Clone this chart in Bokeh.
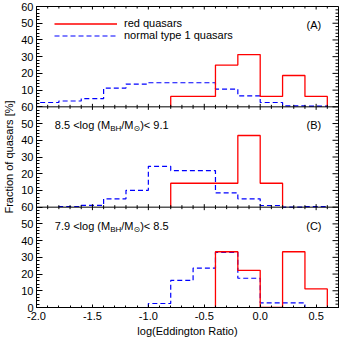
import numpy as np
from bokeh.plotting import figure
from bokeh.models import (FixedTicker, SingleIntervalTicker, NumeralTickFormatter,
                          Span, Label, Legend, LegendItem, Range1d)
from bokeh.embed import file_html
from bokeh.resources import INLINE

# ---------------- data ----------------
bin_edges = [-2.0, -1.8, -1.6, -1.4, -1.2, -1.0, -0.8, -0.6, -0.4, -0.2, 0.0, 0.2, 0.4, 0.6]

red_A = [0, 0, 0, 0, 0, 0, 6.25, 6.25, 25.0, 31.25, 6.25, 18.75, 6.25]
blue_A = [2.6, 3.5, 4.9, 11.2, 13.6, 14.4, 14.4, 14.4, 10.6, 6.5, 2.6, 0.6, 0.4]
red_B = [0, 0, 0, 0, 0, 0, 14.29, 14.29, 14.29, 42.86, 14.29, 0, 0]
blue_B = [0, 0.4, 1.1, 5.0, 10.1, 24.4, 21.9, 21.9, 8.6, 5.0, 1.0, 0, 0.3]
red_C = [0, 0, 0, 0, 0, 0, 0, 0, 33.33, 22.22, 0, 33.33, 11.11]
blue_C = [0, 0, 0, 0, 0, 2.4, 16.2, 23.6, 33.0, 17.5, 2.8, 2.8, 0]

panel_tags = ["(A)", "(B)", "(C)"]
mass_low = [None, "8.5", "7.9"]
mass_high = [None, "9.1", "8.5"]
series_names = ["red quasars", "normal type 1 quasars"]
y_tick_labels = [0, 10, 20, 30, 40, 50, 60]
x_label = "log(Eddington Ratio)"
y_label = "Fraction of quasars [%]"

PANEL = 60          # height of one panel in y units
offsets = [2 * PANEL, PANEL, 0]   # A on top, C at bottom
FONT = "Liberation Sans"
FS = "11px"
SUB = "8px"
RED = "#ff0000"
BLUE = "#0000ff"


def step_xy(values, offset):
    nz = [i for i, v in enumerate(values) if v > 0]
    i0, i1 = nz[0], nz[-1]
    xs = [bin_edges[i0]]
    ys = [offset]
    for i in range(i0, i1 + 1):
        xs += [bin_edges[i], bin_edges[i + 1]]
        ys += [values[i] + offset] * 2
    xs.append(bin_edges[i1 + 1])
    ys.append(offset)
    return xs, ys


FH = 301
p = figure(frame_width=302, frame_height=FH,
           x_range=Range1d(-2.0, 0.7), y_range=Range1d(0, 3 * PANEL),
           output_backend="svg", toolbar_location=None,
           min_border_top=6, min_border_right=5, min_border_left=2, min_border_bottom=2)
p.xgrid.visible = False
p.ygrid.visible = False
p.outline_line_color = "black"
p.outline_line_width = 1
p.background_fill_color = "white"
p.border_fill_color = "white"

# ---------------- histograms ----------------
reds = [red_A, red_B, red_C]
blues = [blue_A, blue_B, blue_C]
red_renderers = []
blue_renderers = []
for k in range(3):
    bx, by = step_xy(blues[k], offsets[k])
    rb = p.line(bx, by, line_color=BLUE, line_width=1.2, line_dash="5 3")
    rx, ry = step_xy(reds[k], offsets[k])
    rr = p.line(rx, ry, line_color=RED, line_width=1.3)
    red_renderers.append(rr)
    blue_renderers.append(rb)

# panel boundaries
for yb in [PANEL, 2 * PANEL]:
    p.add_layout(Span(location=yb, dimension="width", line_color="black", line_width=1))

# ---------------- axes ----------------
ymaj = [o + v for o in [0, PANEL, 2 * PANEL] for v in y_tick_labels]
ymaj = sorted(set(ymaj))
ymin = [v for v in np.arange(0, 3 * PANEL + 0.1, 2.0) if int(round(v)) % 10 != 0]
p.yaxis.ticker = FixedTicker(ticks=ymaj, minor_ticks=ymin)
overrides = {}
for v in ymaj:
    r = v % PANEL
    lab = 60 if (r == 0 and v > 0) else r
    overrides[v] = str(int(lab))
p.yaxis.major_label_overrides = overrides

p.xaxis.ticker = SingleIntervalTicker(interval=0.5, num_minor_ticks=5)
p.xaxis.formatter = NumeralTickFormatter(format="0.0")

for ax in [p.xaxis[0], p.yaxis[0]]:
    ax.axis_line_color = "black"
    ax.major_tick_line_color = "black"
    ax.minor_tick_line_color = "black"
    ax.major_tick_out = 0
    ax.minor_tick_out = 0
    ax.major_label_text_font = FONT
    ax.major_label_text_font_size = FS
    ax.major_label_text_color = "black"
    ax.axis_label_text_font = FONT
    ax.axis_label_text_font_size = FS
    ax.axis_label_text_font_style = "normal"
    ax.axis_label_text_color = "black"

p.xaxis.major_tick_in = 3
p.xaxis.minor_tick_in = 2
p.yaxis.major_tick_in = 6
p.yaxis.minor_tick_in = 3
p.xaxis.axis_label = x_label
p.yaxis.axis_label = y_label
p.xaxis.major_label_standoff = 4
p.xaxis.axis_label_standoff = 2
p.yaxis.major_label_standoff = 3
p.yaxis.axis_label_standoff = 3

# mirrored ticks (top edge, panel boundaries, right edge)
xmaj = [-2.0, -1.5, -1.0, -0.5, 0.0, 0.5]
xmin = [round(v, 1) for v in np.arange(-2.0, 0.71, 0.1) if all(abs(v - m) > 1e-6 for m in xmaj)]
tick_kw = dict(line_color="black", line_width=1, length_units="screen")
for yb, dirs in [(3 * PANEL, [-np.pi / 2]), (2 * PANEL, [np.pi / 2, -np.pi / 2]), (PANEL, [np.pi / 2, -np.pi / 2])]:
    for ang in dirs:
        p.ray(x=xmaj, y=[yb] * len(xmaj), length=3, angle=ang, **tick_kw)
        p.ray(x=xmin, y=[yb] * len(xmin), length=2, angle=ang, **tick_kw)
p.ray(x=[0.7] * len(ymaj), y=ymaj, length=6, angle=np.pi, **tick_kw)
p.ray(x=[0.7] * len(ymin), y=ymin, length=3, angle=np.pi, **tick_kw)

# ---------------- annotations ----------------
lab_kw = dict(text_font=FONT, text_font_size=FS, text_color="black", text_baseline="middle")
for k in range(3):
    p.add_layout(Label(x=0.48, y=offsets[k] + 49, text=panel_tags[k], text_align="center", **lab_kw))
    if mass_low[k] is not None:
        x0 = -1.836
        y0 = offsets[k] + 49
        pieces = [
            (mass_low[k] + " <log (M", 0, FS, FONT, 55.3),
            ("BH", -3.5, SUB, FONT, 11.1),
            ("/M", 0, FS, FONT, 12.2),
            ("\u2299", -3.5, SUB, "DejaVu Sans", 6.7),
            (")< " + mass_high[k], 0, FS, FONT, 28.4),
        ]
        dx = 0.0
        for txt, dy, fs, fnt, w in pieces:
            p.add_layout(Label(x=x0, y=y0, x_offset=dx, y_offset=dy, text=txt,
                               text_font=fnt, text_font_size=fs, text_color="black",
                               text_baseline="middle", text_align="left"))
            dx += w

legend = Legend(items=[LegendItem(label=series_names[0], renderers=[red_renderers[0]]),
                       LegendItem(label=series_names[1], renderers=[blue_renderers[0]])],
                location=(18, FH - 35), orientation="vertical",
                glyph_width=63, glyph_height=11, label_height=11, label_standoff=7,
                spacing=0, padding=0, margin=0,
                border_line_alpha=0, background_fill_alpha=0,
                label_text_font=FONT, label_text_font_size=FS, label_text_color="black")
p.add_layout(legend)

open("out.html", "w").write(file_html(p, INLINE))
